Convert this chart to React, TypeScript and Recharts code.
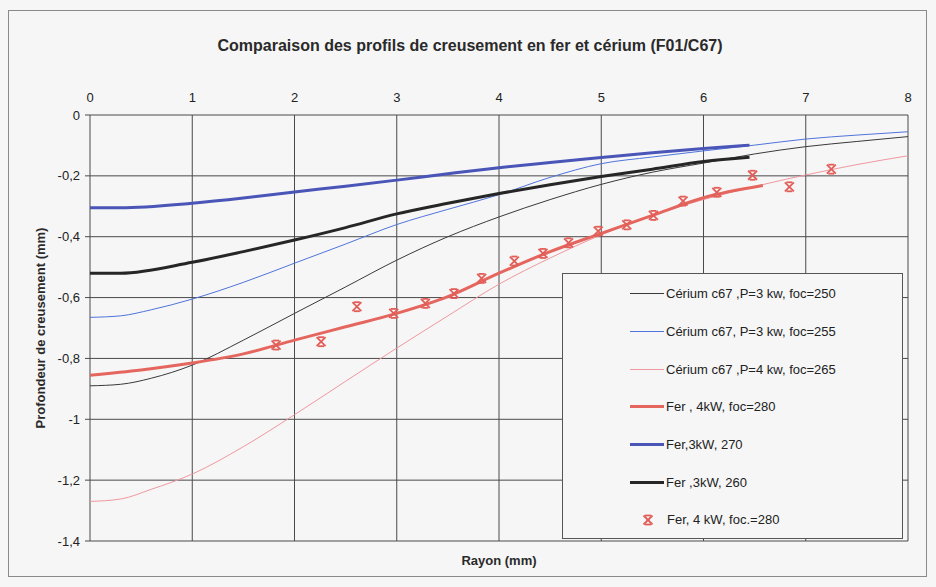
import { ComposedChart, Line, Scatter, XAxis, YAxis, CartesianGrid, Legend } from 'recharts';

// Rayon (mm) on x, profondeur (mm) on y.
const X_TICKS = [0, 1, 2, 3, 4, 5, 6, 7, 8];
const Y_TICKS = [-1.4, -1.2, -1, -0.8, -0.6, -0.4, -0.2, 0];

const CE_X = [0, 0.3, 0.6, 1, 1.5, 2, 2.5, 3, 3.5, 4, 4.5, 5, 5.5, 6, 6.5, 7, 7.5, 8];
const CE_250 = [-0.89, -0.885, -0.865, -0.822, -0.74, -0.652, -0.565, -0.477, -0.4, -0.335, -0.278, -0.228, -0.188, -0.158, -0.128, -0.104, -0.087, -0.071];
const CE_255 = [-0.665, -0.66, -0.64, -0.605, -0.55, -0.487, -0.424, -0.36, -0.31, -0.262, -0.205, -0.16, -0.138, -0.118, -0.099, -0.079, -0.066, -0.055];
const CE_265 = [-1.27, -1.262, -1.23, -1.18, -1.09, -0.985, -0.875, -0.766, -0.66, -0.556, -0.47, -0.394, -0.33, -0.278, -0.235, -0.197, -0.163, -0.134];

const FE3_X = [0, 0.3, 1, 1.5, 2, 2.5, 3, 3.5, 4, 4.5, 5, 5.5, 6, 6.45];
const FE3_270 = [-0.305, -0.305, -0.29, -0.273, -0.253, -0.234, -0.214, -0.193, -0.173, -0.156, -0.14, -0.124, -0.11, -0.099];
const FE3_260 = [-0.52, -0.52, -0.484, -0.449, -0.411, -0.37, -0.325, -0.29, -0.258, -0.229, -0.202, -0.178, -0.153, -0.139];

const FE4_X = [0, 0.5, 1, 1.5, 2, 2.5, 3, 3.5, 4, 4.5, 5, 5.5, 6, 6.58];
const FE4_280 = [-0.855, -0.838, -0.815, -0.785, -0.74, -0.696, -0.652, -0.597, -0.52, -0.449, -0.389, -0.33, -0.272, -0.232];

const PTS_X = [1.82, 2.26, 2.61, 2.97, 3.28, 3.56, 3.83, 4.15, 4.43, 4.68, 4.97, 5.25, 5.51, 5.8, 6.13, 6.48, 6.84, 7.25];
const PTS_Y = [-0.756, -0.745, -0.63, -0.652, -0.619, -0.587, -0.537, -0.48, -0.455, -0.42, -0.382, -0.361, -0.33, -0.283, -0.254, -0.198, -0.236, -0.178];

const toRows = (xs: number[], ys: number[]) => xs.map((x, i) => ({ x, y: ys[i] }));

const SERIES = [
  { name: 'Cérium c67 ,P=3 kw, foc=250', data: toRows(CE_X, CE_250), color: '#3a3a3a', width: 1 },
  { name: 'Cérium c67, P=3 kw, foc=255', data: toRows(CE_X, CE_255), color: '#4f74dc', width: 1 },
  { name: 'Cérium c67 ,P=4 kw, foc=265', data: toRows(CE_X, CE_265), color: '#ef98a0', width: 1 },
  { name: 'Fer , 4kW, foc=280', data: toRows(FE4_X, FE4_280), color: '#e5665e', width: 3 },
  { name: 'Fer,3kW, 270', data: toRows(FE3_X, FE3_270), color: '#4a55b8', width: 3 },
  { name: 'Fer ,3kW, 260', data: toRows(FE3_X, FE3_260), color: '#262626', width: 3 },
];
const POINTS_NAME = 'Fer, 4 kW, foc.=280';
const POINTS = toRows(PTS_X, PTS_Y);
const MARK = '#e25e58';

const FONT = '"Liberation Sans", Arial, sans-serif';
const fmt = (v: number) => String(Math.round(v * 10) / 10).replace('.', ',');

function StarX(props: any) {
  const { cx, cy } = props;
  if (cx == null || cy == null) return null;
  const s = 4.5;
  return (
    <g stroke={MARK} strokeWidth={1.8}>
      <line x1={cx - s} y1={cy - s} x2={cx + s} y2={cy + s} />
      <line x1={cx - s} y1={cy + s} x2={cx + s} y2={cy - s} />
      <line x1={cx - 3} y1={cy - s} x2={cx + 3} y2={cy - s} />
      <line x1={cx - 3} y1={cy + s} x2={cx + 3} y2={cy + s} />
    </g>
  );
}

function LegendBox() {
  return (
    <div
      style={{
        width: 341,
        height: 266,
        border: '1px solid #555',
        background: '#f6f6f6',
        fontFamily: FONT,
        fontSize: 13,
        color: '#222',
        boxSizing: 'border-box',
        paddingTop: 1,
      }}
    >
      {SERIES.map((s) => (
        <div key={s.name} style={{ display: 'flex', alignItems: 'center', height: 37.7 }}>
          <div style={{ width: 34, height: s.width, background: s.color, marginLeft: 67, marginRight: 2 }} />
          <span>{s.name}</span>
        </div>
      ))}
      <div style={{ display: 'flex', alignItems: 'center', height: 37.7 }}>
        <svg width={12} height={12} style={{ marginLeft: 79, marginRight: 13 }}>
          <StarX cx={6} cy={6} />
        </svg>
        <span>{POINTS_NAME}</span>
      </div>
    </div>
  );
}

export default function App() {
  return (
    <div style={{ position: 'absolute', left: 0, top: 0, width: 936, height: 587, background: '#f6f6f6', fontFamily: FONT }}>
      <div style={{ position: 'absolute', left: 8, top: 10, width: 917, height: 565, border: '1px solid #8a8a8a' }} />
      <div style={{ position: 'absolute', left: 0, width: 940, top: 37, textAlign: 'center', fontSize: 16, fontWeight: 'bold', color: '#2a2a2a' }}>
        Comparaison des profils de creusement en fer et cérium (F01/C67)
      </div>
      <div style={{ position: 'absolute', left: 90, width: 818, top: 553, textAlign: 'center', fontSize: 13, fontWeight: 'bold', color: '#2a2a2a' }}>
        Rayon (mm)
      </div>
      <ComposedChart
        width={936}
        height={587}
        margin={{ top: 95, right: 28, bottom: 46, left: 20 }}
        style={{ position: 'absolute', left: 0, top: 0 }}
      >
        <CartesianGrid stroke="#4a4a4a" strokeWidth={1} />
        <XAxis
          dataKey="x"
          type="number"
          orientation="top"
          domain={[0, 8]}
          ticks={X_TICKS}
          height={20}
          tickLine={false}
          axisLine={false}
          tickMargin={7}
          tick={{ fill: '#222', fontSize: 13, fontFamily: FONT }}
          allowDuplicatedCategory={false}
        />
        <YAxis
          type="number"
          domain={[-1.4, 0]}
          ticks={Y_TICKS}
          width={70}
          tickSize={5}
          tickLine={{ stroke: '#4a4a4a' }}
          axisLine={false}
          tickMargin={5}
          tickFormatter={fmt}
          tick={{ fill: '#222', fontSize: 13, fontFamily: FONT }}
          label={{
            value: 'Profondeur de creusement (mm)',
            angle: -90,
            position: 'insideLeft',
            offset: 20,
            style: { textAnchor: 'middle', fontWeight: 'bold', fontSize: 13, fill: '#2a2a2a', fontFamily: FONT },
          }}
        />
        {SERIES.map((s) => (
          <Line
            key={s.name}
            data={s.data}
            dataKey="y"
            name={s.name}
            type="monotone"
            stroke={s.color}
            strokeWidth={s.width}
            dot={false}
            activeDot={false}
            isAnimationActive={false}
          />
        ))}
        <Scatter data={POINTS} dataKey="y" name={POINTS_NAME} shape={StarX} isAnimationActive={false} />
        <Legend
          layout="vertical"
          align="center"
          verticalAlign="middle"
          content={() => <LegendBox />}
          wrapperStyle={{ position: 'absolute', left: 562, top: 273, width: 341, height: 266 }}
        />
      </ComposedChart>
    </div>
  );
}
